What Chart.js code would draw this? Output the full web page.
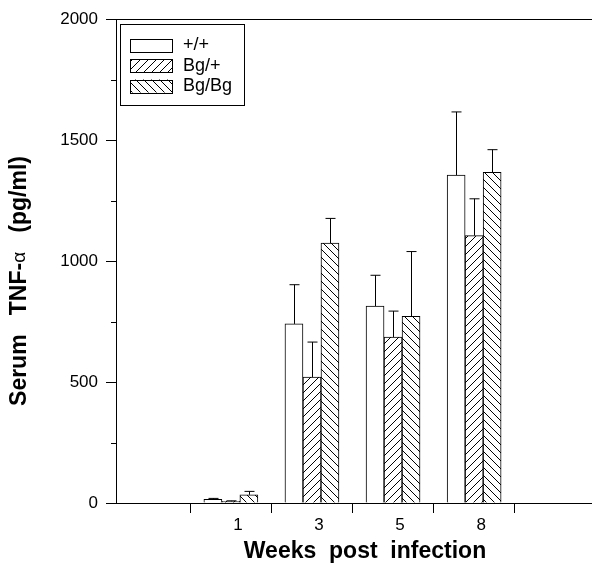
<!DOCTYPE html>
<html lang="en">
<head>
    <meta charset="UTF-8">
    <title>Serum TNF-alpha</title>
    <script src="https://cdn.jsdelivr.net/npm/chart.js"></script>
    <style>
        body {
            margin: 0;
            padding: 0;
            background: #fff;
        }
        .wrap {
            position: relative;
            width: 592px;
            height: 569px;
        }
    </style>
</head>
<body>
    <div class="wrap">
        <canvas id="tnfChart"></canvas>
    </div>

    <script>
        // data
        const weeks = ['1', '3', '5', '8'];
        const groups = ['+/+', 'Bg/+', 'Bg/Bg'];
        const wtValues = [15, 740, 814, 1355];
        const wtErr = [4, 162, 127, 261];
        const hetValues = [7, 520, 686, 1105];
        const hetErr = [2, 145, 107, 152];
        const homValues = [34, 1074, 771, 1366];
        const homErr = [14, 102, 268, 94];
        const yTicks = [0, 500, 1000, 1500, 2000];
        const yMinorTicks = [250, 750, 1250, 1750];

        const FONT = 'Arial, "Liberation Sans", sans-serif';

        function hatch(dir) {
            const c = document.createElement('canvas');
            c.width = 8;
            c.height = 8;
            const g = c.getContext('2d');
            g.fillStyle = '#fff';
            g.fillRect(0, 0, 8, 8);
            g.strokeStyle = '#000';
            g.lineWidth = 1;
            g.beginPath();
            if (dir === '/') {
                g.moveTo(-2, 10); g.lineTo(10, -2);
                g.moveTo(-2, 2); g.lineTo(2, -2);
                g.moveTo(6, 10); g.lineTo(10, 6);
            } else {
                g.moveTo(-2, -2); g.lineTo(10, 10);
                g.moveTo(-2, 6); g.lineTo(2, 10);
                g.moveTo(6, -2); g.lineTo(10, 2);
            }
            g.stroke();
            return g.createPattern(c, 'repeat');
        }

        const toPoints = arr => arr.map((v, i) => ({ x: i + 1, y: v }));

        const decorations = {
            id: 'decorations',
            afterDatasetsDraw(chart) {
                const ctx = chart.ctx;
                const y = chart.scales.y;
                ctx.save();
                ctx.strokeStyle = '#000';
                ctx.lineWidth = 1;
                chart.data.datasets.forEach((ds, di) => {
                    const meta = chart.getDatasetMeta(di);
                    meta.data.forEach((bar, i) => {
                        const top = y.getPixelForValue(ds.data[i].y + ds.errors[i]);
                        const x = Math.round(bar.x) + 0.5;
                        ctx.beginPath();
                        ctx.moveTo(x, bar.y);
                        ctx.lineTo(x, top);
                        ctx.moveTo(x - 5, top);
                        ctx.lineTo(x + 5, top);
                        ctx.stroke();
                    });
                });
                ctx.restore();
            },
            afterDraw(chart) {
                const ctx = chart.ctx;
                const area = chart.chartArea;
                const y = chart.scales.y;
                ctx.save();
                ctx.strokeStyle = '#000';
                ctx.lineWidth = 1;

                // top frame line
                ctx.beginPath();
                ctx.moveTo(area.left, Math.round(area.top) + 0.5);
                ctx.lineTo(chart.width, Math.round(area.top) + 0.5);
                ctx.stroke();

                // minor y ticks
                yMinorTicks.forEach(v => {
                    const py = Math.round(y.getPixelForValue(v)) + 0.5;
                    ctx.beginPath();
                    ctx.moveTo(area.left - 5, py);
                    ctx.lineTo(area.left, py);
                    ctx.stroke();
                });

                // legend box
                ctx.strokeRect(120.5, 24.5, 124, 81);
                ctx.font = '18px ' + FONT;
                ctx.fillStyle = '#000';
                ctx.textBaseline = 'middle';
                ctx.textAlign = 'left';
                chart.data.datasets.forEach((ds, i) => {
                    const sy = 38.5 + i * 20.5;
                    ctx.fillStyle = ds.backgroundColor;
                    ctx.fillRect(130, sy, 43, 13);
                    ctx.strokeRect(130.5, Math.round(sy) + 0.5, 42, 13);
                    ctx.fillStyle = '#000';
                    ctx.fillText(ds.label, 183, sy + 7);
                });

                // x title
                ctx.font = 'bold 23px ' + FONT;
                ctx.textAlign = 'center';
                ctx.fillText('Weeks  post  infection', 365, 552);

                // y title, alpha in plain weight like the original
                const parts = [
                    ['Serum   TNF-', 'bold 23px ' + FONT],
                    ['\u03b1', '19px ' + FONT],
                    ['   (pg/ml)', 'bold 23px ' + FONT]
                ];
                let total = 0;
                parts.forEach(p => { ctx.font = p[1]; total += ctx.measureText(p[0]).width; });
                ctx.translate(20, 0);
                ctx.rotate(-Math.PI / 2);
                ctx.textAlign = 'left';
                let xp = -281 - total / 2;
                parts.forEach(p => {
                    ctx.font = p[1];
                    ctx.fillText(p[0], xp, 0);
                    xp += ctx.measureText(p[0]).width;
                });
                ctx.restore();
            }
        };

        new Chart(document.getElementById('tnfChart'), {
            type: 'bar',
            data: {
                datasets: [
                    { label: groups[0], data: toPoints(wtValues), errors: wtErr, backgroundColor: '#fff' },
                    { label: groups[1], data: toPoints(hetValues), errors: hetErr, backgroundColor: hatch('/') },
                    { label: groups[2], data: toPoints(homValues), errors: homErr, backgroundColor: hatch('\\') }
                ].map(d => Object.assign(d, {
                    borderColor: '#000',
                    borderWidth: 1,
                    barThickness: 18
                }))
            },
            options: {
                responsive: true,
                maintainAspectRatio: false,
                animation: false,
                layout: { padding: { top: 19, right: 0, left: 0, bottom: 0 } },
                plugins: {
                    legend: { display: false },
                    tooltip: { enabled: false }
                },
                scales: {
                    x: {
                        type: 'linear',
                        offset: false,
                        min: -0.4168,
                        max: 5.4537,
                        afterBuildTicks: s => {
                            const t = [];
                            for (let v = 0.5; v <= 4.5; v += 0.5) t.push({ value: v });
                            s.ticks = t;
                        },
                        afterFit: s => { s.height = 66; },
                        ticks: {
                            autoSkip: false,
                            maxRotation: 0,
                            padding: 2,
                            labelOffset: 7,
                            color: '#000',
                            font: { family: FONT, size: 17 },
                            callback: v => Number.isInteger(v) ? weeks[v - 1] : ''
                        },
                        grid: {
                            offset: false,
                            drawOnChartArea: false,
                            tickLength: 10,
                            color: c => (c.tick && Number.isInteger(c.tick.value)) ? 'rgba(0,0,0,0)' : '#000'
                        },
                        border: { color: '#000', width: 1 }
                    },
                    y: {
                        min: 0,
                        max: 2000,
                        afterBuildTicks: s => { s.ticks = yTicks.map(v => ({ value: v })); },
                        afterFit: s => { s.width = 116; },
                        ticks: {
                            padding: 8,
                            color: '#000',
                            font: { family: FONT, size: 17 },
                            callback: v => String(v)
                        },
                        grid: {
                            drawOnChartArea: false,
                            tickLength: 10,
                            color: '#000'
                        },
                        border: { color: '#000', width: 1 }
                    }
                }
            },
            plugins: [decorations]
        });
    </script>
</body>
</html>
